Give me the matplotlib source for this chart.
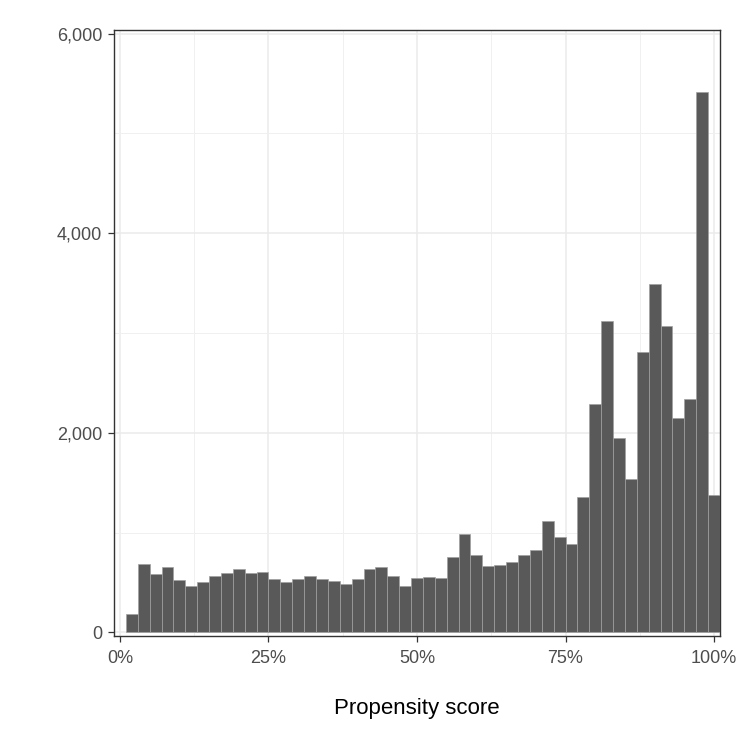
import numpy as np
import matplotlib
matplotlib.use("Agg")
import matplotlib.pyplot as plt
from matplotlib.ticker import FuncFormatter, MultipleLocator

# histogram counts, bins of width 0.02 centred at 0.02 ... 1.00
bin_centers = np.arange(1, 51) * 0.02
counts = [180, 683, 589, 653, 523, 462, 509, 569, 593, 636,
          599, 606, 533, 502, 533, 566, 533, 519, 482, 533,
          636, 653, 569, 465, 549, 560, 549, 760, 991, 774,
          670, 676, 710, 777, 824, 1119, 955, 884, 1353, 2291,
          3119, 1946, 1541, 2814, 3490, 3075, 2147, 2335, 5410, 1373]
bin_width = 0.02

x_ticks = [0, 0.25, 0.5, 0.75, 1.0]
y_ticks = [0, 2000, 4000, 6000]

plt.rcParams['font.family'] = ['Liberation Sans', 'DejaVu Sans']

fig = plt.figure(figsize=(7.5, 7.5), dpi=100)
ax = fig.add_axes([0.152, 0.152, 0.808, 0.808])

ax.bar(bin_centers, counts, width=bin_width, color='#595959',
       edgecolor='#a0a0a0', linewidth=0.5, zorder=3)

ax.set_xlim(-0.0101, 1.0101)
ax.set_ylim(-36, 6036)

ax.set_xticks(x_ticks)
ax.set_yticks(y_ticks)
ax.xaxis.set_minor_locator(MultipleLocator(0.125))
ax.yaxis.set_minor_locator(MultipleLocator(1000))
ax.xaxis.set_major_formatter(FuncFormatter(lambda v, p: f"{v * 100:.0f}%"))
ax.yaxis.set_major_formatter(FuncFormatter(lambda v, p: f"{v:,.0f}"))

ax.grid(which='major', color='#ebebeb', linewidth=1.1, zorder=0)
ax.grid(which='minor', color='#f0f0f0', linewidth=0.7, zorder=0)
ax.set_axisbelow(True)

ax.tick_params(which='major', length=4, width=0.9, color='#333333',
               labelsize=13, labelcolor='#4d4d4d')
ax.tick_params(axis='y', pad=4.5)
ax.tick_params(axis='x', pad=6)
ax.tick_params(which='minor', length=0)
for s in ax.spines.values():
    s.set_color('#333333')
    s.set_linewidth(1.0)

ax.set_xlabel("Propensity score", fontsize=16, color='black', labelpad=22.5)

fig.savefig("out.png", dpi=100, facecolor='white')
